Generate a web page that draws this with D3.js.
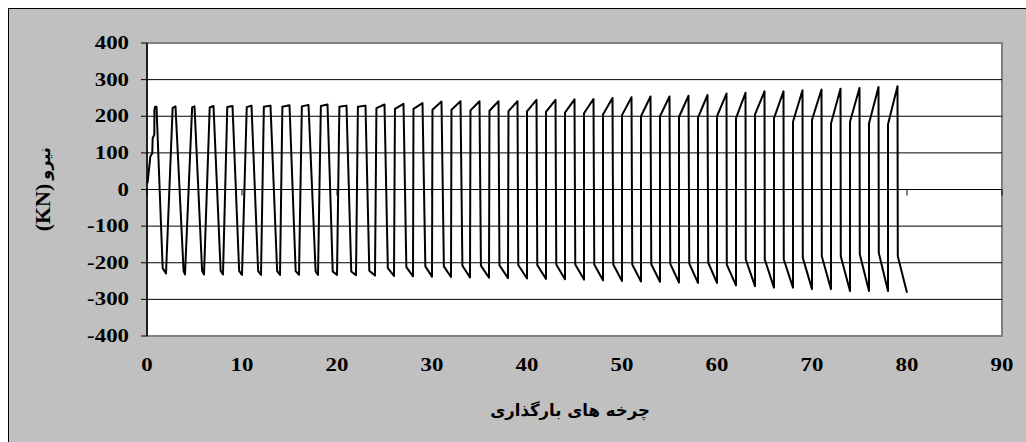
<!DOCTYPE html>
<html>
<head>
<meta charset="utf-8">
<script src="https://cdn.jsdelivr.net/npm/d3@7"></script>
<style>
  body { margin: 0; background: #fff; }
  svg { display: block; }
</style>
</head>
<body>
<svg id="chart" width="1026" height="442"></svg>
<script>
// Cyclic load record: force (kN) against loading cycles.
const xTicks = [0, 10, 20, 30, 40, 50, 60, 70, 80, 90];
const yTicks = [-400, -300, -200, -100, 0, 100, 200, 300, 400];

// First loading branch of the record, [cycle, force]
const firstBranch = [[0.05, 17], [0.15, 40], [0.35, 90], [0.55, 99], [0.6, 140],
                     [0.77, 150], [0.78, 217], [0.85, 226]];

// Per loop (each loop spans two units on the cycle axis)
const posPeak = [226, 227, 227, 228, 228, 229, 229, 230, 231, 232,
                 229, 229, 232, 234, 236, 240, 241, 241, 241, 241,
                 245, 245, 246, 247, 250, 252, 254, 254, 256, 258,
                 262, 264, 268, 268, 271, 273, 275, 277, 280, 282];
const posKnee = [226, 223, 224, 224, 225, 225, 226, 226, 227, 228,
                 226, 226, 222, 220, 220, 218, 218, 216, 215, 214,
                 213, 212, 210, 208, 205, 203, 200, 200, 198, 196,
                 200, 195, 205, 195, 185, 190, 180, 185, 180, 178];
const negKnee = [-215, -222, -222, -222, -222, -223, -223, -223, -224, -224,
                 -224, -222, -215, -212, -210, -210, -208, -208, -207, -206,
                 -206, -205, -205, -205, -205, -205, -204, -203, -202, -200,
                 -205, -191, -191, -191, -186, -182, -182, -177, -173, -182];
const negPeak = [-229, -232, -232, -232, -233, -233, -233, -233, -233, -233,
                 -234, -235, -236, -237, -238, -239, -240, -241, -242, -243,
                 -244, -245, -246, -248, -250, -251, -252, -254, -255, -255,
                 -262, -264, -268, -268, -272, -272, -277, -277, -277, -282];
// width (in cycles) of the steep reloading and unloading branches
const riseWidth = [0, 0.7, 0.75, 0.6, 0.45, 0.5, 0.3, 0.25, 0.3, 0.3,
                   0.25, 0.2, 0.15, 0.1, 0.05, 0.05, 0.05, 0.05, 0.05, 0.05,
                   0, 0, 0, 0, 0, 0, 0, 0, 0, 0,
                   0, 0, 0, 0, 0, 0, 0, 0, 0, 0];
const dropWidth = [0.65, 0.85, 0.8, 0.75, 0.7, 0.7, 0.7, 0.65, 0.75, 0.55,
                   0.5, 0.4, 0.35, 0.3, 0.3, 0.25, 0.2, 0.15, 0.1, 0.08,
                   0.08, 0.08, 0.08, 0.08, 0.08, 0.08, 0.08, 0.08, 0.08, 0.08,
                   0.03, 0.03, 0.03, 0.03, 0.03, 0.03, 0.03, 0.03, 0.03, 0.03];

const svg = d3.select("#chart");
const W = 1026, H = 442;
const plot = { left: 147, top: 43, right: 1002, bottom: 336 };

const x = d3.scaleLinear().domain([0, 90]).range([plot.left, plot.right]);
const y = d3.scaleLinear().domain([-400, 400]).range([plot.bottom, plot.top]);

// outer chart frame
svg.append("rect")
  .attr("x", 8.5).attr("y", 8.5)
  .attr("width", W).attr("height", H)
  .attr("fill", "#c0c0c0").attr("stroke", "#000").attr("stroke-width", 1);

// plot area
svg.append("rect")
  .attr("x", plot.left).attr("y", plot.top)
  .attr("width", plot.right - plot.left).attr("height", plot.bottom - plot.top)
  .attr("fill", "#fff").attr("stroke", "#808080").attr("stroke-width", 2);

// horizontal gridlines
svg.append("g")
  .selectAll("line")
  .data(yTicks.filter(v => v !== 400 && v !== -400 && v !== 0))
  .join("line")
  .attr("x1", plot.left).attr("x2", plot.right)
  .attr("y1", d => y(d)).attr("y2", d => y(d))
  .attr("stroke", "#000").attr("stroke-width", 1);

// build the force path loop by loop
const pts = [...firstBranch];
posPeak.forEach((pk, k) => {
  const x0 = 2 * k;
  if (k > 0) {
    pts.push([x0, negPeak[k - 1]]);
    pts.push([x0 + riseWidth[k], posKnee[k]]);
  }
  pts.push([x0 + 1.0, pk]);
  pts.push([x0 + 1.0 + dropWidth[k], negKnee[k]]);
  pts.push([x0 + 2.0, negPeak[k]]);
});

const line = d3.line().x(d => x(d[0])).y(d => y(d[1]));
svg.append("path")
  .datum(pts)
  .attr("d", line)
  .attr("fill", "none")
  .attr("stroke", "#000")
  .attr("stroke-width", 2)
  .attr("stroke-linejoin", "round");

// x axis along zero force
svg.append("line")
  .attr("x1", plot.left).attr("x2", plot.right)
  .attr("y1", y(0)).attr("y2", y(0))
  .attr("stroke", "#000").attr("stroke-width", 1);
svg.append("g")
  .selectAll("line")
  .data(xTicks)
  .join("line")
  .attr("x1", d => x(d)).attr("x2", d => x(d))
  .attr("y1", y(0)).attr("y2", y(0) + 6)
  .attr("stroke", "#000").attr("stroke-width", 1);

// y axis
svg.append("line")
  .attr("x1", plot.left).attr("x2", plot.left)
  .attr("y1", plot.top).attr("y2", plot.bottom)
  .attr("stroke", "#000").attr("stroke-width", 1.5);
svg.append("g")
  .selectAll("line")
  .data(yTicks)
  .join("line")
  .attr("x1", plot.left - 6).attr("x2", plot.left)
  .attr("y1", d => y(d)).attr("y2", d => y(d))
  .attr("stroke", "#000").attr("stroke-width", 1);

const serif = "'Liberation Serif', 'Times New Roman', serif";
const arabic = "'DejaVu Sans', 'Noto Sans', sans-serif";

// y tick labels
svg.append("g")
  .selectAll("text")
  .data(yTicks)
  .join("text")
  .attr("transform", d => `translate(129,${y(d) + 6}) scale(1.27,1)`)
  .attr("text-anchor", "end")
  .attr("font-family", serif).attr("font-weight", "bold").attr("font-size", 18)
  .attr("fill", "#000")
  .text(d => d);

// x tick labels
svg.append("g")
  .selectAll("text")
  .data(xTicks)
  .join("text")
  .attr("transform", d => `translate(${x(d)},370.5) scale(1.27,1)`)
  .attr("text-anchor", "middle")
  .attr("font-family", serif).attr("font-weight", "bold").attr("font-size", 18)
  .attr("fill", "#000")
  .text(d => d);

// axis titles
svg.append("text")
  .attr("x", 570).attr("y", 416)
  .attr("text-anchor", "middle")
  .attr("font-family", arabic).attr("font-weight", "bold").attr("font-size", 16.5)
  .attr("fill", "#000")
  .text("چرخه های بارگذاری");

svg.append("text")
  .attr("transform", "translate(50,207.5) rotate(-90)")
  .attr("text-anchor", "middle")
  .attr("font-family", serif).attr("font-weight", "bold").attr("font-size", 22)
  .attr("fill", "#000")
  .text("(KN)");

svg.append("text")
  .attr("transform", "translate(50,163.5) rotate(-90)")
  .attr("text-anchor", "middle")
  .attr("font-family", arabic).attr("font-weight", "bold").attr("font-size", 16)
  .attr("fill", "#000")
  .text("نیرو");
</script>
</body>
</html>
